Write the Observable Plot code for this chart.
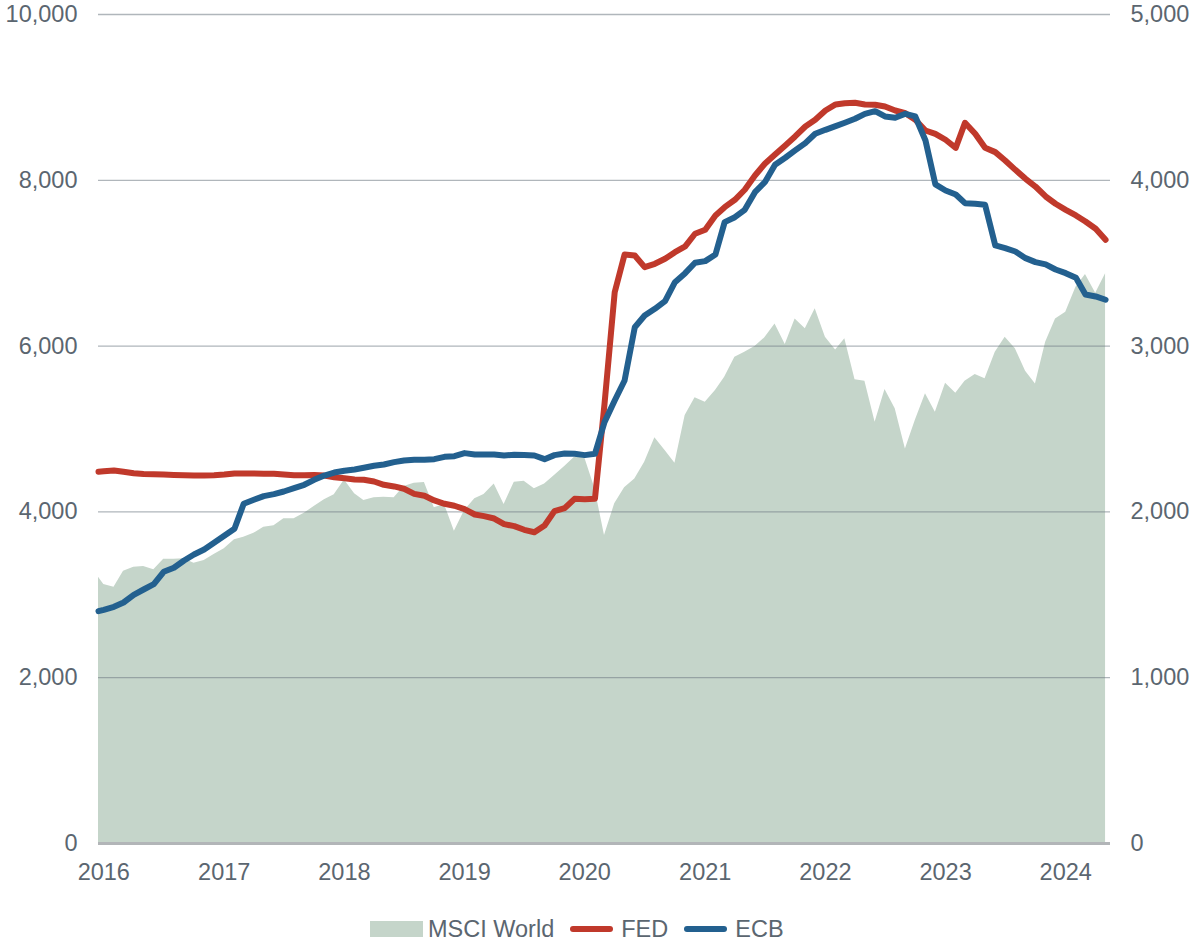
<!DOCTYPE html>
<html>
<head>
<meta charset="utf-8">
<script src="https://cdn.jsdelivr.net/npm/d3@7"></script>
<script src="https://cdn.jsdelivr.net/npm/@observablehq/plot@0.6"></script>
<style>
  body { margin: 0; background: #ffffff; font-family: "Liberation Sans", Arial, sans-serif; }
  #legend { display: flex; align-items: center; height: 26px; padding-left: 370px; font-size: 23.5px; color: #5b6670; }
  .sw { display: inline-block; }
  .box { width: 53px; height: 16px; margin-right: 5px; }
  .ln { width: 43px; height: 6px; border-radius: 3px; margin-right: 8px; }
  .lab { margin-right: 16px; }
</style>
</head>
<body>
<div id="chart"></div>
<div id="legend"></div>
<script>
// ---- Data (month-end values; first point mid-December 2015) ----
const firstDate = "2015-12-16";
const monthStart = "2016-01-01";
const monthEnd = "2024-06-01";
const dates = [new Date(firstDate), ...d3.utcMonth.range(new Date(monthStart), new Date(monthEnd))];

// FED balance sheet (left axis, bn)
const fed = [4484,
  4490,4500,4484,4467,4458,4455,4450,4446,4442,4438,4438,4442,
  4450,4463,4463,4463,4459,4459,4450,4442,4442,4446,4438,4418,
  4405,4391,4387,4367,4327,4307,4279,4218,4194,4138,4098,4074,
  4033,3969,3949,3920,3852,3828,3784,3755,3836,4009,4045,4158,
  4154,4158,5300,6650,7105,7093,6952,6993,7053,7133,7202,7355,
  7403,7576,7676,7765,7886,8058,8199,8311,8420,8529,8649,8730,
  8842,8915,8930,8935,8915,8911,8890,8842,8810,8730,8601,8561,
  8489,8392,8694,8561,8392,8340,8239,8126,8018,7925,7805,7717,
  7644,7576,7503,7415,7282];

// ECB balance sheet (left axis, bn)
const ecb = [2802,
  2819,2855,2907,3000,3064,3128,3277,3326,3414,3486,3547,3627,
  3712,3796,4098,4146,4190,4214,4246,4286,4327,4387,4439,4475,
  4496,4512,4532,4556,4572,4600,4620,4628,4628,4636,4664,4672,
  4709,4693,4693,4693,4681,4689,4685,4681,4636,4685,4705,4701,
  4685,4701,5083,5344,5585,6228,6369,6450,6542,6771,6880,7005,
  7025,7105,7495,7555,7644,7857,7977,8187,8272,8360,8448,8561,
  8609,8653,8695,8742,8802,8834,8770,8754,8802,8770,8480,7950,
  7877,7829,7724,7717,7705,7214,7181,7141,7061,7013,6985,6924,
  6880,6824,6623,6599,6559];

// MSCI World index (right axis)
const msci = [1606,
  1562,1546,1642,1666,1671,1651,1715,1715,1717,1691,1707,1743,
  1777,1832,1847,1871,1908,1916,1958,1958,1992,2032,2073,2103,
  2193,2109,2069,2085,2089,2085,2153,2173,2177,2025,2045,1884,
  2008,2079,2105,2169,2045,2179,2185,2139,2169,2219,2274,2330,
  2326,2140,1857,2049,2145,2199,2300,2447,2370,2294,2581,2688,
  2662,2732,2812,2933,2963,2997,3050,3134,3009,3164,3104,3225,
  3054,2977,3044,2797,2788,2541,2738,2622,2380,2551,2712,2601,
  2776,2716,2788,2829,2803,2963,3054,2984,2849,2772,3023,3164,
  3204,3355,3432,3319,3436];

const leftTicks = [0, 2000, 4000, 6000, 8000, 10000];
const leftMax = 10000, rightMax = 5000;
const rightScale = leftMax / rightMax;
const yearTicks = d3.utcYear.range(new Date("2016-01-01"), new Date("2025-01-01"));
const xDomain = [new Date(firstDate), new Date("2024-05-16")];

const seriesNames = ["MSCI World", "FED", "ECB"];
const colors = { "MSCI World": "#c5d5ca", FED: "#c0392b", ECB: "#23608f" };

const data = dates.map((date, i) => ({ date, fed: fed[i], ecb: ecb[i], msci: msci[i] }));

const fmt = d3.format(",");
const chart = Plot.plot({
  width: 1193,
  height: 916,
  marginLeft: 98,
  marginRight: 83,
  marginTop: 14,
  marginBottom: 73,
  x: { type: "utc", domain: xDomain },
  y: { domain: [0, leftMax] },
  style: { fontFamily: "'Liberation Sans', Arial, sans-serif", fontSize: "23.5px", color: "#5b6670", background: "#ffffff" },
  marks: [
    Plot.areaY(data, { x: "date", y: d => d.msci * rightScale, fill: colors["MSCI World"] }),
    Plot.ruleY(leftTicks.filter(d => d > 0), { stroke: "#6f7a84", strokeOpacity: 0.55, strokeWidth: 1.3 }),
    Plot.ruleY([0], { stroke: "#b2b5b8", strokeWidth: 3 }),
    Plot.lineY(data, { x: "date", y: "fed", stroke: colors.FED, strokeWidth: 6, strokeLinecap: "round", strokeLinejoin: "round" }),
    Plot.lineY(data, { x: "date", y: "ecb", stroke: colors.ECB, strokeWidth: 6, strokeLinecap: "round", strokeLinejoin: "round" }),
    Plot.axisY({ ticks: leftTicks, anchor: "left", tickSize: 0, tickPadding: 21, tickFormat: fmt, label: null }),
    Plot.axisY({ ticks: leftTicks, anchor: "right", tickSize: 0, tickPadding: 20, tickFormat: d => fmt(d / rightScale), label: null }),
    Plot.axisX({ ticks: yearTicks, tickSize: 0, tickPadding: 20, tickFormat: d3.utcFormat("%Y"), label: null })
  ]
});
document.getElementById("chart").appendChild(chart);

// Legend
const legend = document.getElementById("legend");
seriesNames.forEach((name, i) => {
  const sw = document.createElement("span");
  sw.className = "sw " + (i === 0 ? "box" : "ln");
  sw.style.background = colors[name];
  const lab = document.createElement("span");
  lab.className = "lab";
  lab.textContent = name;
  legend.appendChild(sw);
  legend.appendChild(lab);
});
</script>
</body>
</html>
